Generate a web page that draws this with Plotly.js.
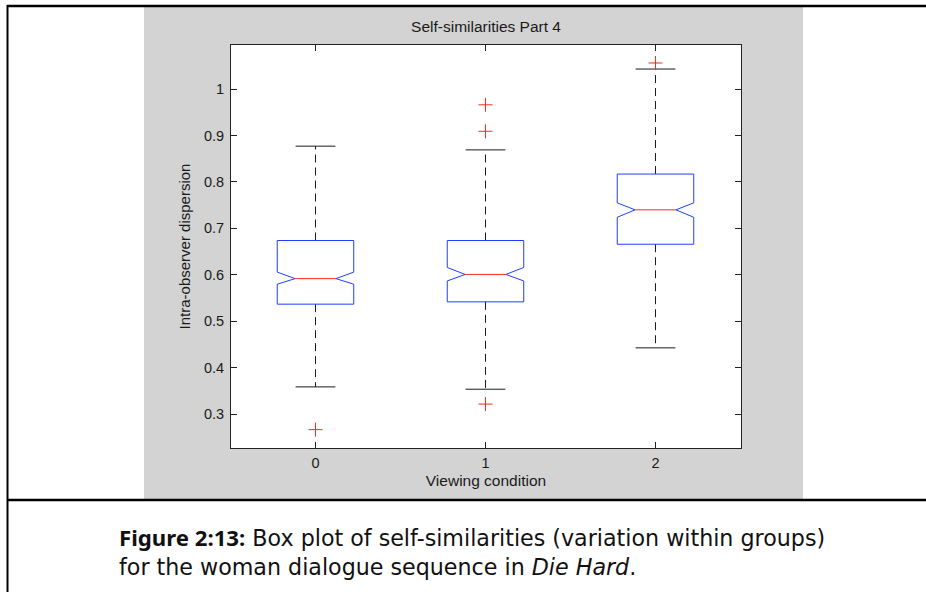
<!DOCTYPE html>
<html>
<head>
<meta charset="utf-8">
<script src="https://cdn.plot.ly/plotly-3.0.1.min.js"></script>
<style>
  html, body { margin: 0; padding: 0; background: #ffffff; }
  #chart { width: 926px; height: 592px; }
</style>
</head>
<body>
<div id="chart"></div>
<script>
// Viewing conditions (x positions) and their tick labels
const conditions = [0, 1, 2];
const conditionLabels = ['0', '1', '2'];

// Box statistics per viewing condition
const lowerWhisker = [0.359, 0.354, 0.443];
const q1 = [0.537, 0.542, 0.666];
const notchLow = [0.580, 0.587, 0.724];
const medians = [0.592, 0.601, 0.740];
const notchHigh = [0.606, 0.616, 0.755];
const q3 = [0.674, 0.674, 0.817];
const upperWhisker = [0.877, 0.869, 1.043];

// Outliers (condition, value)
const outlierX = [0, 1, 1, 1, 2];
const outlierY = [0.267, 0.966, 0.909, 0.322, 1.056];

// Y axis ticks
const yTicks = [0.3, 0.4, 0.5, 0.6, 0.7, 0.8, 0.9, 1];
const yTickLabels = ['0.3', '0.4', '0.5', '0.6', '0.7', '0.8', '0.9', '1'];

// Geometry of the glyphs (in x-axis units)
const BOX_HALF = 0.225;
const NOTCH_HALF = 0.12;
const CAP_HALF = 0.117;

// Plot area in pixels
const W = 926, H = 592;
const PL = 231, PR = 741, PT = 45, PB = 448;
const px = v => (v - PL) / (PR - PL);
const py = v => (PB - v) / (PB - PT);

const boxX = [], boxY = [], medX = [], medY = [];
const whX = [], whY = [], capX = [], capY = [];
conditions.forEach((c, i) => {
  const w = BOX_HALF, n = NOTCH_HALF;
  boxX.push(c - w, c + w, c + w, c + n, c + w, c + w, c - w, c - w, c - n, c - w, c - w, null);
  boxY.push(q3[i], q3[i], notchHigh[i], medians[i], notchLow[i], q1[i], q1[i], notchLow[i], medians[i], notchHigh[i], q3[i], null);
  medX.push(c - n, c + n, null);
  medY.push(medians[i], medians[i], null);
  whX.push(c, c, null, c, c, null);
  whY.push(q3[i], upperWhisker[i], null, q1[i], lowerWhisker[i], null);
  capX.push(c - CAP_HALF, c + CAP_HALF, null, c - CAP_HALF, c + CAP_HALF, null);
  capY.push(upperWhisker[i], upperWhisker[i], null, lowerWhisker[i], lowerWhisker[i], null);
});

const traces = [
  { x: whX, y: whY, mode: 'lines', line: { color: '#1a1a1a', width: 1, dash: '8px,5px' }, hoverinfo: 'skip' },
  { x: capX, y: capY, mode: 'lines', line: { color: '#1a1a1a', width: 1 }, hoverinfo: 'skip' },
  { x: boxX, y: boxY, mode: 'lines', line: { color: '#1f3fff', width: 1 }, hoverinfo: 'skip' },
  { x: medX, y: medY, mode: 'lines', line: { color: '#ff2a1a', width: 1 }, hoverinfo: 'skip' },
  { x: outlierX, y: outlierY, mode: 'markers',
    marker: { symbol: 'cross-thin-open', size: 10, color: '#ff2a1a', line: { width: 1, color: '#ff2a1a' } },
    hoverinfo: 'skip' }
];

const sans = 'Liberation Sans, Arial, sans-serif';
const axisFont = { family: sans, size: 14.5, color: '#1a1a1a' };
const labelFont = { family: sans, size: 15.5, color: '#1a1a1a' };
const captionFont = { family: 'DejaVu Sans, Verdana, sans-serif', size: 22.2, color: '#111' };

const layout = {
  width: W, height: H,
  margin: { l: PL, r: W - PR, t: PT, b: H - PB, pad: 0 },
  paper_bgcolor: '#ffffff',
  plot_bgcolor: 'rgba(0,0,0,0)',
  showlegend: false,
  title: {
    text: 'Self-similarities Part 4',
    font: labelFont,
    xref: 'paper', x: 0.5, xanchor: 'center',
    yref: 'container', y: 1 - 27 / H, yanchor: 'middle'
  },
  xaxis: {
    range: [-0.497, 2.503],
    tickvals: conditions, ticktext: conditionLabels,
    ticks: 'inside', ticklen: 6, tickcolor: '#222', tickwidth: 1,
    showline: true, linecolor: '#222', linewidth: 1, mirror: 'ticks',
    showgrid: false, zeroline: false,
    tickfont: axisFont, ticklabelstandoff: 2,
    title: { text: 'Viewing condition', font: labelFont, standoff: 4 }
  },
  yaxis: {
    range: [0.2275, 1.0947],
    tickvals: yTicks, ticktext: yTickLabels,
    ticks: 'inside', ticklen: 6, tickcolor: '#222', tickwidth: 1,
    showline: true, linecolor: '#222', linewidth: 1, mirror: 'ticks',
    showgrid: false, zeroline: false,
    tickfont: axisFont, ticklabelstandoff: 3,
    title: { text: 'Intra-observer dispersion', font: { family: sans, size: 15, color: '#1a1a1a' }, standoff: 9 }
  },
  shapes: [
    // grey figure panel
    { type: 'rect', xref: 'paper', yref: 'paper', x0: px(144), x1: px(803), y0: py(499), y1: py(7),
      fillcolor: '#d3d3d3', line: { width: 0 }, layer: 'below' },
    // white axes background
    { type: 'rect', xref: 'paper', yref: 'paper', x0: 0, x1: 1, y0: 0, y1: 1,
      fillcolor: '#ffffff', line: { width: 0 }, layer: 'below' },
    // frame lines
    { type: 'line', xref: 'paper', yref: 'paper', x0: px(7), x1: px(926), y0: py(6), y1: py(6),
      line: { color: '#000', width: 2.5 } },
    { type: 'line', xref: 'paper', yref: 'paper', x0: px(7.5), x1: px(7.5), y0: py(5), y1: py(592),
      line: { color: '#000', width: 2 } },
    { type: 'line', xref: 'paper', yref: 'paper', x0: px(7), x1: px(926), y0: py(500), y1: py(500),
      line: { color: '#000', width: 2.5 } }
  ],
  annotations: [
    // figure caption, two lines
    { xref: 'paper', yref: 'paper', x: px(117), y: py(550.5), xanchor: 'left', yanchor: 'middle',
      align: 'left', showarrow: false,
      text: '<span style="font-family:Noto Sans"><b>Figure 2:13:</b></span> Box plot of self-similarities (variation within groups)' +
            '<br>for the woman dialogue sequence in <i>Die Hard</i>.',
      font: captionFont }
  ]
};

Plotly.newPlot('chart', traces, layout, { staticPlot: true, displayModeBar: false });
</script>
</body>
</html>
